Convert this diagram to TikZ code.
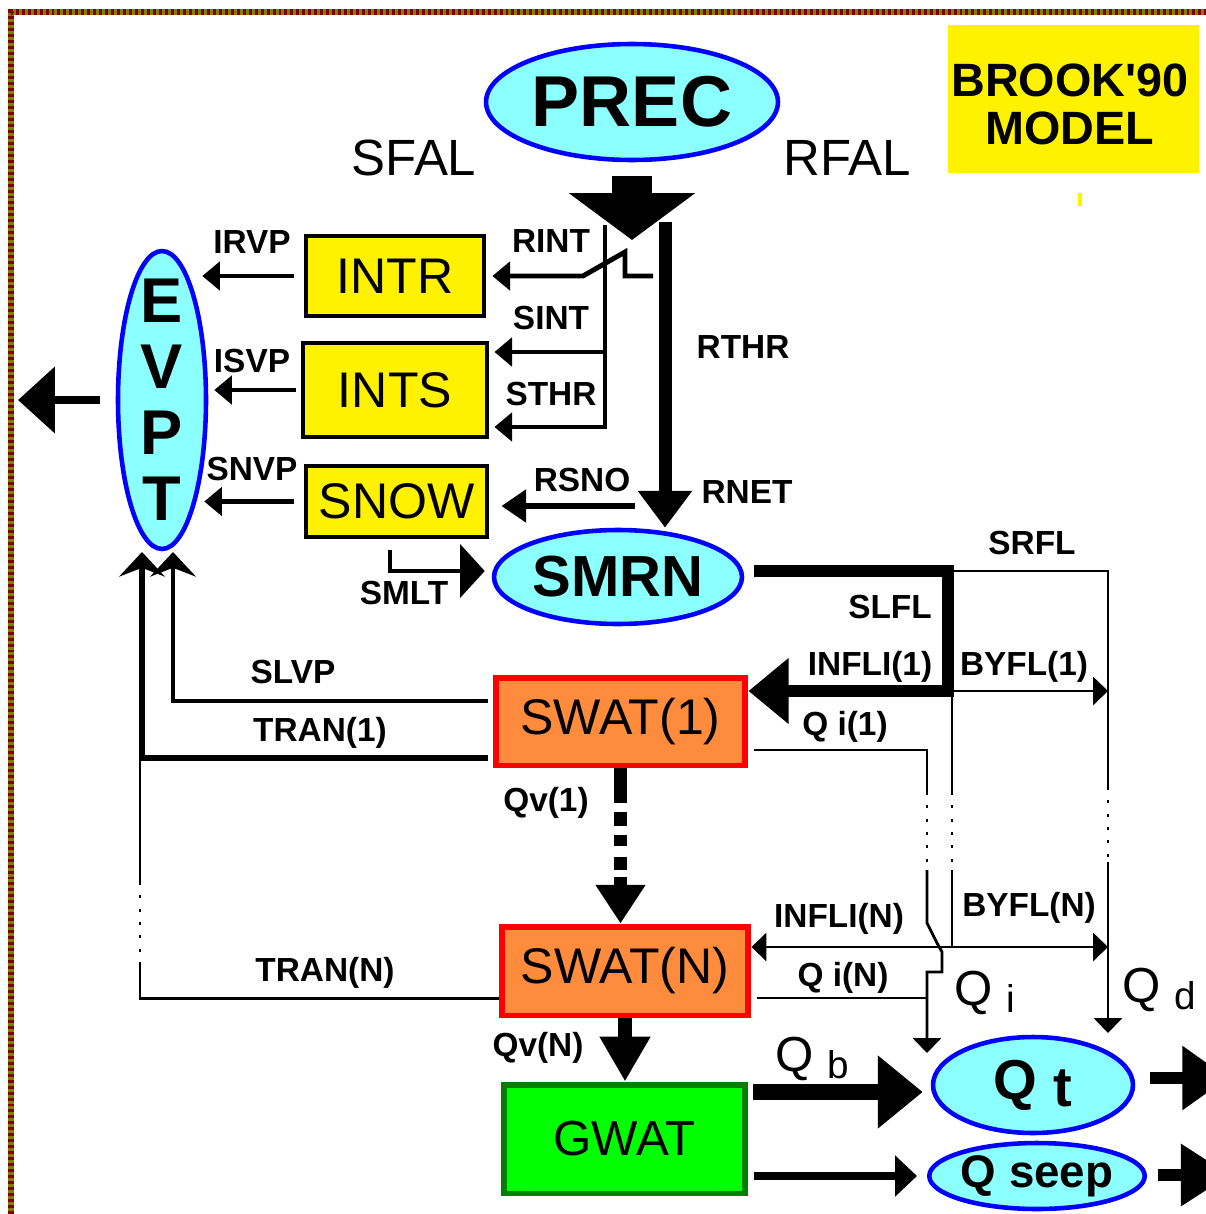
\documentclass[tikz,border=0pt]{standalone}
\usepackage{fontspec}
\setmainfont{Liberation Sans}
\usetikzlibrary{arrows.meta,shapes.geometric}
\definecolor{skyfill}{RGB}{140,255,255}
\definecolor{swatfill}{RGB}{255,140,60}
\definecolor{gwatline}{RGB}{0,128,0}
\definecolor{frameA}{RGB}{128,0,0}
\definecolor{frameB}{RGB}{128,128,0}
\newcommand{\setsz}[1]{\fontsize{#1}{#1}\selectfont}
\tikzset{pool/.style={ellipse, draw=blue, fill=skyfill, line width=2.6pt, inner sep=0pt}}
\tikzset{store/.style={rectangle, draw, fill=yellow, line width=2.8pt, inner sep=0pt, font=\setsz{28.5}}}
\tikzset{soil/.style={rectangle, draw=red, fill=swatfill, line width=3.4pt, inner sep=0pt, font=\setsz{28.5}}}
\tikzset{lab/.style={font=\bfseries\setsz{19}, inner sep=0pt}}
\tikzset{flow/.style={line width=2.8pt, -{Triangle[length=10pt, width=16pt]}}}
\tikzset{thinline/.style={line width=1.6pt}}
\tikzset{thinflow/.style={line width=1.6pt, -{Triangle[length=8.5pt, width=16pt]}}}
\tikzset{dotline/.style={line width=1.6pt, dash pattern=on 1.6pt off 6pt}}
\tikzset{upflow/.style={-{Stealth[length=14pt, width=26pt, inset=5pt]}}}

\begin{document}
\begin{tikzpicture}[x=0.02cm, y=-0.02cm]
\useasboundingbox (0,0) rectangle (1206,1214);

	\draw[line width=3.4pt, frameB] (11,1214) -- (11,12) -- (1206,12);
	\draw[line width=3.4pt, frameA, dash pattern=on 1.7pt off 1.7pt] (11,1214) -- (11,12) -- (1206,12);

	\node[fill=yellow, minimum width=5.02cm, minimum height=2.96cm, inner sep=0pt] (brook) at (1073.5,99) {};
	\node[font=\bfseries\fontsize{26.6}{27.3}\selectfont, align=center] (brooktext) at (1070,104) {BROOK\textquotesingle 90\\MODEL};
	\fill[yellow] (1078,193) rectangle (1082,206);

	\node[pool, minimum width=5.84cm, minimum height=2.32cm, font=\bfseries\setsz{41}] (prec) at (632,102) {PREC};
	\node[font=\setsz{29}] (sfal) at (414,158) {SFAL};
	\node[font=\setsz{29}] (rfal) at (847,158) {RFAL};

	\node[pool, minimum width=1.76cm, minimum height=5.96cm] (evpt) at (162,400) {};
	\node[align=center, inner sep=0pt, font=\bfseries\fontsize{36}{37.6}\selectfont] (evpttext) at (evpt) {E\\V\\P\\T};

	\node[store, minimum width=3.56cm, minimum height=1.6cm] (intr) at (395,276) {INTR};
	\node[store, minimum width=3.68cm, minimum height=1.88cm] (ints) at (395,390) {INTS};
	\node[store, minimum width=3.62cm, minimum height=1.42cm] (snow) at (396.5,501.5) {SNOW};

	\node[pool, minimum width=4.96cm, minimum height=1.88cm, font=\bfseries\setsz{33}] (smrn) at (618,577) {SMRN};

	\node[soil, minimum width=5.0cm, minimum height=1.76cm] (swat1) at (620.5,721.5) {SWAT(1)};
	\node[soil, minimum width=4.94cm, minimum height=1.78cm] (swatn) at (625,971) {SWAT(N)};
	\node[rectangle, draw=gwatline, fill=green, line width=3.4pt, inner sep=0pt, minimum width=4.84cm, minimum height=2.18cm, font=\setsz{28}] (gwat) at (624.5,1139) {GWAT};

	\node[pool, minimum width=4cm, minimum height=1.92cm, font=\bfseries\setsz{32}] (qt) at (1033,1085) {Q \raisebox{-4pt}{t}};
	\node[pool, minimum width=4.14cm, minimum height=1.32cm, font=\bfseries\setsz{26}] (qseep) at (1037,1176) {Q seep};


	\coordinate (drop) at (632,240);
	\draw[line width=22.8pt, shorten <=0.28cm, -{Triangle[length=26.7pt, width=70.6pt]}] (prec) -- (drop);

	\coordinate (rthr) at (665,222);
	\draw[line width=7.4pt, -{Triangle[length=21pt, width=29.6pt]}] (rthr) -- (rthr |- smrn.north);

	\coordinate (sthr) at (605,225);
	\draw[flow, shorten >=0.1cm] (sthr) |- (ints.east |- 0,427);
	\draw[flow, shorten >=0.1cm] (sthr |- 0,352) -- (ints.east |- 0,352);
	\coordinate (rint) at (653,276);
	\draw[flow, shorten >=0.12cm] (rint) -- ++(-28,0) -- ++(0,-24) -- ++(-42,24) -- (intr.east);

	\draw[flow, shorten <=0.2cm, shorten >=-0.12cm] (intr.west) -- (intr.west -| evpt.east);
	\draw[flow, shorten <=0.1cm, shorten >=0.12cm] (ints.west) -- (ints.west -| evpt.east);
	\draw[flow, shorten <=0.2cm, shorten >=-0.08cm] (snow.west) -- (snow.west -| evpt.east);

	\coordinate (evap) at (18,400);
	\draw[line width=4.5pt, shorten <=0.32cm, -{Triangle[length=21pt, width=37pt]}] (evpt) -- (evap);

	\coordinate (rsno) at (635,506);
	\draw[line width=3.4pt, shorten >=0.24cm, -{Triangle[length=14pt, width=18pt]}] (rsno) -- (snow.east |- rsno);

	\coordinate (smlt) at (390,550);
	\draw[line width=2.8pt, shorten >=0.14cm, -{Triangle[length=14pt, width=30pt]}] (smlt) |- ([yshift=0.12cm]smrn.west);

	\coordinate (slfl) at (948,571);
	\draw[line width=6.8pt, shorten <=0.2cm, -{Triangle[length=22.8pt, width=36pt]}] (smrn.east |- slfl) -- (slfl) |- (swat1.east |- 0,691);

	\coordinate (srfl) at (1108,571);
	\coordinate (srfldot) at (1108,787);
	\coordinate (srflgo) at (1108,862);
	\coordinate (qdin) at (1108,1033);
	\draw[thinline] (slfl) -- (srfl) -- (srfldot);
	\draw[dotline] (srfldot) -- (srflgo);
	\draw[thinflow] (srflgo) -- (qdin);

	\coordinate (byfl) at (952,691);
	\coordinate (bydot) at (952,792);
	\coordinate (bygo) at (952,870);
	\coordinate (infln) at (952,947);
	\draw[thinflow] (byfl) -- (srfl |- byfl);
	\draw[thinline] (byfl) -- (bydot);
	\draw[dotline] (bydot) -- (bygo);
	\draw[thinline] (bygo) -- (infln);
	\draw[thinflow] (infln) -- (swatn.east |- infln);
	\draw[thinflow] (infln) -- (srfl |- infln);

	\coordinate (qione) at (927,750);
	\coordinate (qidot) at (927,792);
	\coordinate (qigo) at (927,870);
	\coordinate (qin) at (927,1053);
	\draw[thinline, shorten <=0.12cm] (swat1.east |- qione) -- (qione) -- (qidot);
	\draw[dotline] (qidot) -- (qigo);
	\draw[thinflow] (qigo) -- ++(0,53) -- ++(10,20) -- ++(5,9) -- ++(0,20) -- ++(-15,0) -- (qin);
	\draw[thinline, shorten <=0.12cm] (swatn.east |- 0,998) -- (qin |- 0,998);

	\coordinate (slvpup) at (173,552);
	\coordinate (tranup) at (142,552);
	\draw[line width=2.8pt, shorten <=0.1cm, upflow] (swat1.west |- 0,701) -| (slvpup);
	\draw[line width=3.8pt, shorten <=0.1cm, upflow] (swat1.west |- 0,758) -| (tranup);
	\coordinate (trandot) at (140,965);
	\coordinate (trango) at (140,883);
	\draw[line width=1.7pt] (swatn.west |- 0,998) -| (trandot);
	\draw[dotline] (trandot) -- (trango);
	\draw[line width=1.7pt] (trango) -- (trango |- 0,758);

	\draw[line width=7.4pt, dash pattern=on 19.9pt off 4.6pt on 8pt off 5.1pt on 6.8pt off 5.7pt on 7.4pt off 4pt on 12pt off 50pt, -{Triangle[length=22pt, width=27pt]}] (swat1.south) -- (swat1.south |- swatn.north);
	\draw[line width=8pt, -{Triangle[length=25.6pt, width=27.3pt]}] (swatn.south) -- (swatn.south |- gwat.north);

	\draw[line width=9pt, shorten <=0.1cm, shorten >=0.16cm, -{Triangle[length=25.6pt, width=40pt]}] (gwat.east |- 0,1092) -- (qt.west |- 0,1092);
	\draw[line width=4.5pt, shorten <=0.12cm, shorten >=0.2cm, -{Triangle[length=12.5pt, width=22.8pt]}] (gwat.east |- qseep.west) -- (qseep.west);

	\coordinate (qtout) at (1228,1078);
	\coordinate (seepout) at (1230,1175);
	\draw[line width=6.3pt, shorten <=0.3cm, -{Triangle[length=26pt, width=35pt]}] (qt.east |- qtout) -- (qtout);
	\draw[line width=6.3pt, shorten <=0.22cm, -{Triangle[length=28pt, width=34pt]}] (qseep.east |- seepout) -- (seepout);


	\node[lab] (irvp) at (252,242) {IRVP};
	\node[lab] (isvp) at (252,361) {ISVP};
	\node[lab] (snvp) at (252,469) {SNVP};
	\node[lab] (rintlab) at (551,241) {RINT};
	\node[lab] (sint) at (551,318) {SINT};
	\node[lab] (sthrlab) at (551,394) {STHR};
	\node[lab] (rthrlab) at (743,347) {RTHR};
	\node[lab] (rsnolab) at (582,480) {RSNO};
	\node[lab] (rnet) at (747,492) {RNET};
	\node[lab] (smltlab) at (404,593) {SMLT};
	\node[lab] (srfllab) at (1032,543) {SRFL};
	\node[lab] (slfllab) at (890,607) {SLFL};
	\node[lab] (infli1) at (870,667) {INFLI(1)};
	\node[lab] (byfl1) at (1024,667) {BYFL(1)};
	\node[lab] (qi1) at (845,727) {Q i(1)};
	\node[lab] (slvp) at (293,672) {SLVP};
	\node[lab] (tran1) at (320,733) {TRAN(1)};
	\node[lab] (qv1) at (546,803) {Qv(1)};
	\node[lab] (inflin) at (839,919) {INFLI(N)};
	\node[lab] (byfln) at (1029,908) {BYFL(N)};
	\node[lab] (qinlab) at (843,978) {Q i(N)};
	\node[lab] (trann) at (325,973) {TRAN(N)};
	\node[lab] (qvn) at (538,1048) {Qv(N)};
	\node[font=\setsz{28}] (qilab) at (985,993) {Q \raisebox{-4pt}{\setsz{22}i}};
	\node[font=\setsz{28}] (qdlab) at (1159,990) {Q \raisebox{-4pt}{\setsz{22}d}};
	\node[font=\setsz{28}] (qblab) at (812,1059) {Q \raisebox{-4pt}{\setsz{22}b}};

\end{tikzpicture}
\end{document}
